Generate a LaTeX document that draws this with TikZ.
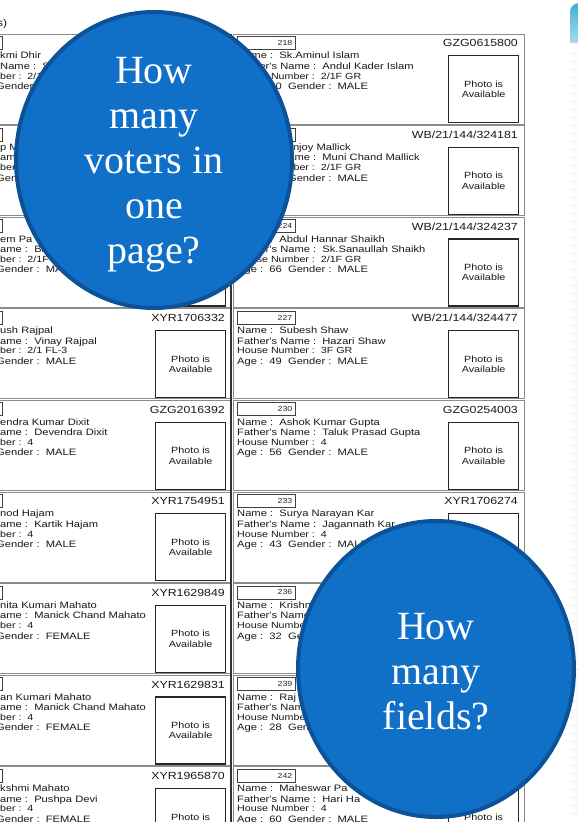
\documentclass[tikz,border=0pt]{standalone}
\usepackage{fontspec}
\newfontfamily\cardfont[FakeStretch=1.2]{Liberation Sans}
\newfontfamily\bubblefont{Liberation Serif}
\usetikzlibrary{shapes.geometric}
\definecolor{bubblefill}{RGB}{16,111,198}
\definecolor{bubbleedge}{RGB}{11,82,152}
\definecolor{swoosh}{RGB}{62,176,214}
\tikzset{
	cellline/.style={draw=black!45, line width=0.7pt},
	serialbox/.style={draw=black!75, line width=0.7pt, anchor=north west, minimum width=58pt, minimum height=13pt,
		text width=52pt, inner xsep=3pt, inner ysep=0pt, align=right, text=black!85,
		font=\cardfont\fontsize{7.3}{8}\selectfont},
	epicno/.style={anchor=base east, inner sep=0pt, text=black!90, font=\cardfont\fontsize{10.3}{12}\selectfont},
	photobox/.style={draw=black!85, line width=1.2pt, anchor=north west, minimum width=70pt, minimum height=67pt,
		align=center, inner sep=0pt, text=black!90, font=\cardfont\fontsize{9}{10.5}\selectfont},
	cardline/.style={anchor=base west, inner sep=0pt, text=black!90, font=\cardfont\fontsize{9.3}{10.5}\selectfont},
	houseline/.style={cardline, font=\cardfont\fontsize{8.9}{10.5}\selectfont},
	chevron/.style={draw=black!10, line width=0.4pt},
	bubble/.style={ellipse, draw=bubbleedge, line width=4pt, fill=bubblefill, minimum width=276pt,
		minimum height=296pt, inner sep=0pt},
	bubbletext/.style={text=white, align=center, inner sep=0pt, font=\bubblefont\fontsize{40}{45}\selectfont}
}
% one voter card: id, left x, top y, serial, epic no, four text lines
\newcommand{\votercard}[9]{%
	\draw[cellline] (#2,#3) rectangle ++(291,90);
	\node[serialbox] (#1sn) at (#2+4,#3+2) {#4};
	\node[epicno] (#1id) at (#2+285,#3+12.8) {#5};
	\node[photobox] (#1ph) at (#2+215,#3+21.2) {Photo is\\Available};
	\node[cardline] (#1a) at ({max(#2+4,0)},#3+24.8) {#6};
	\node[cardline] (#1b) at ({max(#2+4,0)},#3+35.2) {#7};
	\node[houseline] (#1c) at ({max(#2+4,0)},#3+45) {#8};
	\node[cardline] (#1d) at ({max(#2+4,0)},#3+55.4) {#9};
}

\begin{document}
\begin{tikzpicture}[x=1pt,y=-1pt]
	\useasboundingbox (0,0) rectangle (578,822);
	\fill[white] (0,0) rectangle (578,822);
	\clip (0,0) rectangle (578,822);

	\node[cardline, font=\cardfont\fontsize{10}{12}\selectfont] (hdr) at (0,26) {\hspace*{-3pt}s)};

	% left column
	\votercard{l1}{-60}{34}{}{}{kmi Dhir}{Name :~~S}{ber :~~2/1}{\hspace*{-4pt}Gender :}
	\votercard{l2}{-60}{125.6}{}{}{p M}{ame :}{ber :}{\hspace*{-4pt}Gender :}
	\votercard{l3}{-60}{217.2}{}{}{em Pa}{ame :~~Bi}{ber :~~2/1F}{\hspace*{-4pt}Gender :~~MALE}
	\votercard{l4}{-60}{308.8}{}{XYR1706332}{ush Rajpal}{ame :~~Vinay Rajpal}{ber :~~2/1 FL-3}{\hspace*{-4pt}Gender :~~MALE}
	\votercard{l5}{-60}{400.4}{}{GZG2016392}{endra Kumar Dixit}{ame :~~Devendra Dixit}{ber :~~4}{\hspace*{-4pt}Gender :~~MALE}
	\votercard{l6}{-60}{492}{}{XYR1754951}{nod Hajam}{ame :~~Kartik Hajam}{ber :~~4}{\hspace*{-4pt}Gender :~~MALE}
	\votercard{l7}{-60}{583.6}{}{XYR1629849}{nita Kumari Mahato}{ame :~~Manick Chand Mahato}{ber :~~4}{\hspace*{-4pt}Gender :~~FEMALE}
	\votercard{l8}{-60}{675.2}{}{XYR1629831}{an Kumari Mahato}{ame :~~Manick Chand Mahato}{ber :~~4}{\hspace*{-4pt}Gender :~~FEMALE}
	\votercard{l9}{-60}{766.8}{}{XYR1965870}{kshmi Mahato}{ame :~~Pushpa Devi}{ber :~~4}{\hspace*{-4pt}Gender :~~FEMALE}

	% right column
	\votercard{r1}{233}{34}{218}{GZG0615800}{Name :~~Sk.Aminul Islam}{Father's Name :~~Andul Kader Islam}{House Number :~~2/1F GR}{Age :~~30~~Gender :~~MALE}
	\votercard{r2}{233}{125.6}{221}{WB/21/144/324181}{Name :~~Sanjoy Mallick}{Father's Name :~~Muni Chand Mallick}{House Number :~~2/1F GR}{Age :~~35~~Gender :~~MALE}
	\votercard{r3}{233}{217.2}{224}{WB/21/144/324237}{Name :~~Abdul Hannar Shaikh}{Father's Name :~~Sk.Sanaullah Shaikh}{House Number :~~2/1F GR}{Age :~~66~~Gender :~~MALE}
	\votercard{r4}{233}{308.8}{227}{WB/21/144/324477}{Name :~~Subesh Shaw}{Father's Name :~~Hazari Shaw}{House Number :~~3F GR}{Age :~~49~~Gender :~~MALE}
	\votercard{r5}{233}{400.4}{230}{GZG0254003}{Name :~~Ashok Kumar Gupta}{Father's Name :~~Taluk Prasad Gupta}{House Number :~~4}{Age :~~56~~Gender :~~MALE}
	\votercard{r6}{233}{492}{233}{XYR1706274}{Name :~~Surya Narayan Kar}{Father's Name :~~Jagannath Kar}{House Number :~~4}{Age :~~43~~Gender :~~MALE}
	\votercard{r7}{233}{583.6}{236}{}{Name :~~Krishna}{Father's Name :}{House Number :}{Age :~~32~~Gender :}
	\votercard{r8}{233}{675.2}{239}{}{Name :~~Raj}{Father's Name :}{House Number :}{Age :~~28~~Gender :}
	\votercard{r9}{233}{766.8}{242}{}{Name :~~Maheswar Pa}{Father's Name :~~Hari Ha}{House Number :~~4}{Age :~~60~~Gender :~~MALE}

	\draw[black!80, line width=1.3pt] (231,34) -- (231,822);

	% slide decoration at the right edge
	\shade[top color=swoosh, bottom color=swoosh!45] (578,3) -- (575,4) .. controls (571,6) and (570,9) .. (570,14) -- (570,43) -- (578,43) -- cycle;
	\foreach \yy in {52,60,...,812}
		\draw[chevron] (570,\yy) -- (572,\yy+3) -- (574,\yy) -- (576,\yy+3) -- (578,\yy);

	% question bubbles
	\node[bubble] (q1) at (154,160) {};
	\node[bubbletext, yshift=-5pt] (q1txt) at (q1.center) {How\\many\\voters in\\one\\page?};
	\node[bubble] (q2) at (436,669) {};
	\node[bubbletext, yshift=-3pt] (q2txt) at (q2.center) {How\\many\\fields?};
\end{tikzpicture}
\end{document}
